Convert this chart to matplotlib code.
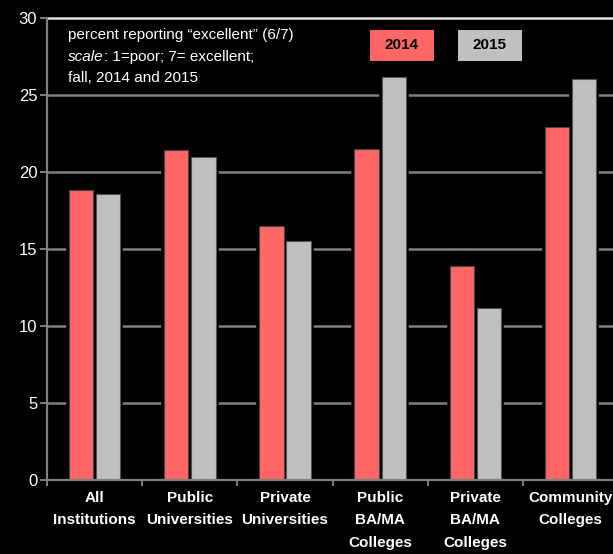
# Ratings reporting "excellent" by institution type, fall 2014 vs 2015
import matplotlib.pyplot as plt
from matplotlib.patches import Rectangle

categories = ["All\nInstitutions", "Public\nUniversities", "Private\nUniversities",
              "Public\nBA/MA\nColleges", "Private\nBA/MA\nColleges", "Community\nColleges"]
pct_2014 = [18.8, 21.4, 16.5, 21.5, 13.9, 22.95]
pct_2015 = [18.6, 21.0, 15.5, 26.2, 11.15, 26.05]
y_ticks = [0, 5, 10, 15, 20, 25, 30]

RED = "#ff6666"
GREY = "#c0c0c0"

plt.rcParams['font.family'] = ['Liberation Sans', 'DejaVu Sans']

fig = plt.figure(figsize=(6.13, 5.54), dpi=100, facecolor="black")
ax = fig.add_axes([47 / 613, 1 - 480 / 554, 566 / 613, 462 / 554])
ax.set_facecolor("black")

x = list(range(len(categories)))
w = 0.255
off = 0.143
x14 = [i - off for i in x]
x15 = [i + off for i in x]

# black halo behind bars so the grid lines stop short of them
for xs, vals in ((x14, pct_2014), (x15, pct_2015)):
    ax.bar(xs, vals, width=w, color="black", edgecolor="black", linewidth=4, zorder=2)
ax.bar(x14, pct_2014, width=w, color=RED, edgecolor="#444444", linewidth=0.8, zorder=3)
ax.bar(x15, pct_2015, width=w, color=GREY, edgecolor="#555555", linewidth=0.8, zorder=3)

ax.set_xlim(-0.5, 5.445)
ax.set_ylim(0, 30)

for v in y_ticks[1:-1]:
    ax.axhline(v, color="#808080", linewidth=1.8, zorder=1)
ax.axhline(30, color="#e0e0e0", linewidth=1.8, zorder=1, clip_on=False)

for side in ("top", "right"):
    ax.spines[side].set_visible(False)
for side in ("left", "bottom"):
    ax.spines[side].set_color("#808080")
    ax.spines[side].set_linewidth(1.6)
    ax.spines[side].set_zorder(4)

ax.set_yticks(y_ticks)
ax.tick_params(axis="y", colors="#808080", labelcolor="white", labelsize=12,
               length=5, width=1.4, pad=2)
ax.set_xticks(x)
ax.set_xticklabels(categories, color="white", fontsize=11, fontweight="bold",
                   linespacing=1.75)
ax.set_xticks([i - 0.5 for i in x], minor=True)
ax.tick_params(axis="x", which="major", length=0, pad=8)
ax.tick_params(axis="x", which="minor", colors="#808080", length=4, width=1.4)

# note in the top-left corner
t1 = ax.text(-0.28, 29.35, "percent reporting \u201cexcellent\u201d (6/7)", color="white",
             fontsize=11, va="top", ha="left")
t2 = ax.text(-0.28, 27.95, "scale", color="white", fontsize=11, style="italic",
             va="top", ha="left")
ax.annotate(": 1=poor; 7= excellent;", xy=(1, 0), xycoords=t2, va="bottom",
            ha="left", color="white", fontsize=11)
ax.text(-0.28, 26.55, "fall, 2014 and 2015", color="white", fontsize=11,
        va="top", ha="left")

# legend boxes
for x0, col, lab in ((0.5707, RED, "2014"), (0.726, GREY, "2015")):
    ax.add_patch(Rectangle((x0, 0.907), 0.113, 0.067, transform=ax.transAxes,
                           facecolor=col, edgecolor="none", zorder=5))
    ax.text(x0 + 0.0565, 0.9405, lab, transform=ax.transAxes, ha="center",
            va="center", fontsize=11, fontweight="bold", color="black", zorder=6)

fig.savefig("out.png", dpi=100, facecolor="black")
